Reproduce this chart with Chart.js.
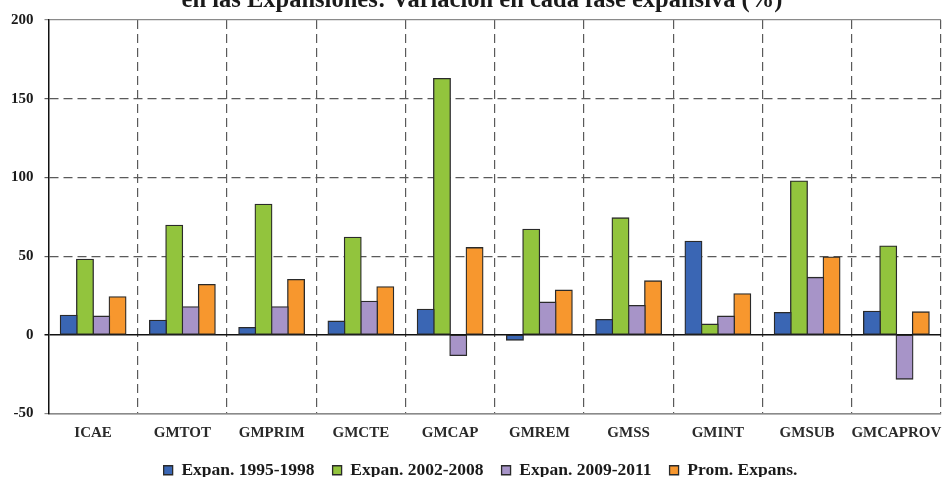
<!DOCTYPE html>
<html>
<head>
<meta charset="utf-8">
<script src="https://cdn.jsdelivr.net/npm/chart.js@4.4.0/dist/chart.umd.min.js"></script>
<style>
  html, body { margin: 0; padding: 0; background: #fff; overflow: hidden; }
  canvas { display: block; }
</style>
</head>
<body>
<canvas id="myChart" width="943" height="477"></canvas>
<script>
// chart data
var categories = ['ICAE', 'GMTOT', 'GMPRIM', 'GMCTE', 'GMCAP', 'GMREM', 'GMSS', 'GMINT', 'GMSUB', 'GMCAPROV'];
var expan9598 = [12.3, 9.1, 4.5, 8.5, 16.1, -3.2, 9.5, 59.2, 14.0, 14.8];
var expan0208 = [47.8, 69.4, 82.8, 61.8, 162.6, 66.9, 74.1, 6.6, 97.6, 56.2];
var expan0911 = [11.7, 17.6, 17.6, 21.2, -13.0, 20.6, 18.5, 11.7, 36.3, -28.0];
var promExpans = [24.0, 31.8, 35.0, 30.3, 55.2, 28.2, 34.1, 25.9, 49.2, 14.4];
var seriesNames = ['Expan. 1995-1998', 'Expan. 2002-2008', 'Expan. 2009-2011', 'Prom. Expans.'];
var yTicks = [-50, 0, 50, 100, 150, 200];
var titleText = 'en las Expansiones: Variación en cada fase expansiva (%)';

var serif = '"Liberation Serif", "Times New Roman", serif';
var colors = ['#3a66b4', '#92c43d', '#a794c8', '#f7972e'];
var allSeries = [expan9598, expan0208, expan0911, promExpans];

var datasets = [];
for (var i = 0; i < allSeries.length; i++) {
  datasets.push({
    label: seriesNames[i],
    data: allSeries[i],
    backgroundColor: colors[i],
    borderColor: '#2a2a2a',
    borderWidth: 1.3,
    borderSkipped: false,
    inflateAmount: 0.8,
    barPercentage: 1.0,
    categoryPercentage: 0.73
  });
}

// the title is cut off at the top of the picture, only its lower half shows
var cutTitle = {
  id: 'cutTitle',
  beforeInit: function(chart) {
    // legend sits lower in the original, shrink its box a bit
    var origFit = chart.legend.fit;
    chart.legend.fit = function() {
      origFit.bind(chart.legend)();
      this.height -= 12;
    };
  },
  afterLayout: function(chart) {
    // legend is a little right of centre in the original
    chart.legend.left += 10;
    chart.legend.right += 10;
  },
  afterDraw: function(chart) {
    var c = chart.ctx;
    c.save();
    c.font = 'bold 24.5px ' + serif;
    c.fillStyle = '#1a1a1a';
    c.textAlign = 'center';
    c.textBaseline = 'alphabetic';
    c.fillText(titleText, 482, 7);
    c.restore();
  }
};

var ctx = document.getElementById('myChart').getContext('2d');
var myChart = new Chart(ctx, {
  type: 'bar',
  data: { labels: categories, datasets: datasets },
  plugins: [cutTitle],
  options: {
    responsive: false,
    animation: false,
    devicePixelRatio: 1,
    layout: { padding: { left: 0, right: 2, top: 20, bottom: 0 } },
    plugins: {
      title: { display: false },
      tooltip: { enabled: false },
      legend: {
        position: 'bottom',
        labels: {
          font: { family: serif, size: 17.5, weight: 'bold' },
          color: '#1a1a1a',
          boxWidth: 9,
          boxHeight: 9,
          padding: 18
        }
      }
    },
    scales: {
      x: {
        afterFit: function(axis) {
          axis.height -= 10;
          axis.paddingRight = 0; // last label runs off the edge in the original
        },
        grid: {
          offset: true,
          drawTicks: false,
          lineWidth: 1.2,
          color: function(c) {
            if (c.index === 0) return 'rgba(0,0,0,0)';
            if (c.index === categories.length) return '#8a8a8a';
            return '#5a5a5a';
          }
        },
        border: {
          display: true,
          color: '#8a8a8a',
          width: 1.5,
          dash: function(c) {
            return c.index === categories.length ? [] : [9, 5];
          }
        },
        ticks: {
          font: { family: serif, size: 15, weight: 'bold' },
          color: '#2a2a2a',
          padding: 11,
          maxRotation: 0,
          autoSkip: false
        }
      },
      y: {
        min: -50,
        max: 200,
        afterBuildTicks: function(axis) {
          axis.ticks = yTicks.map(function(v) { return { value: v }; });
        },
        grid: {
          tickLength: 4,
          lineWidth: function(c) {
            return c.tick && c.tick.value === 0 ? 1.5 : 1.2;
          },
          color: function(c) {
            if (!c.tick) return '#5a5a5a';
            if (c.tick.value === 0) return '#111';
            if (c.tick.value === 200 || c.tick.value === -50) return '#8a8a8a';
            return '#5a5a5a';
          }
        },
        border: {
          display: true,
          color: '#111',
          width: 1.5,
          dash: function(c) {
            if (!c.tick) return [9, 5];
            var v = c.tick.value;
            return (v === 0 || v === 200 || v === -50) ? [] : [9, 5];
          }
        },
        ticks: {
          font: { family: serif, size: 15, weight: 'bold' },
          color: '#1a1a1a',
          padding: 11
        }
      }
    }
  }
});
</script>
</body>
</html>
